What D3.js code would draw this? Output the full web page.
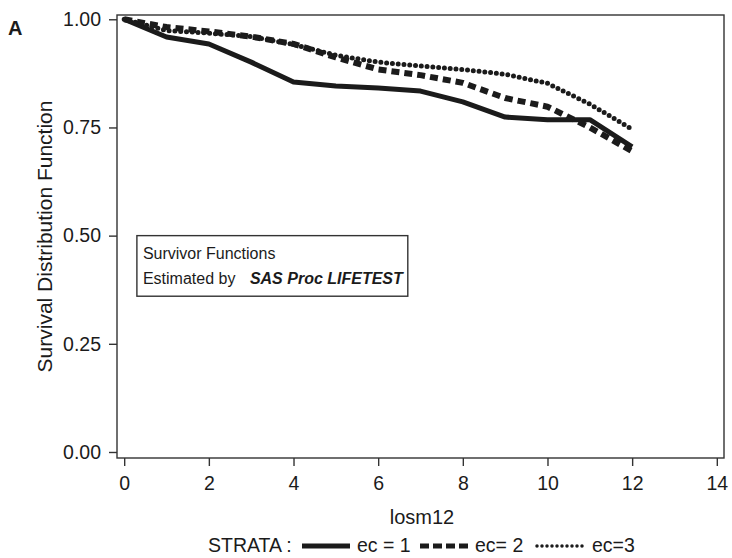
<!DOCTYPE html>
<html>
<head>
<meta charset="utf-8">
<script src="https://cdn.jsdelivr.net/npm/d3@7"></script>
<style>
  body { margin: 0; background: #fff; }
  svg { font-family: "Liberation Sans", Arial, sans-serif; }
</style>
</head>
<body>
<svg width="732" height="558"></svg>
<script>
// time points (losm12)
const times = [0, 1, 2, 3, 4, 5, 6, 7, 8, 9, 10, 11, 12];
// survival estimates per stratum
const ec1 = [1.00, 0.959, 0.943, 0.901, 0.855, 0.846, 0.841, 0.834, 0.809, 0.774, 0.768, 0.768, 0.705];
const ec2 = [1.00, 0.982, 0.972, 0.960, 0.943, 0.912, 0.884, 0.871, 0.853, 0.818, 0.798, 0.750, 0.695];
const ec3 = [1.00, 0.974, 0.968, 0.960, 0.942, 0.917, 0.901, 0.892, 0.884, 0.873, 0.852, 0.804, 0.746];
const strata = ["ec = 1", "ec= 2", "ec=3"];
const xTicks = [0, 2, 4, 6, 8, 10, 12, 14];
const yTicks = [0, 0.25, 0.5, 0.75, 1];

const INK = "#1b1b1b";
const svg = d3.select("svg");

const x = d3.scaleLinear().domain([-0.17, 14.17]).range([117, 724]);
const y = d3.scaleLinear().domain([-0.0139, 1.0099]).range([458, 15]);

// frame
svg.append("rect")
  .attr("x", x.range()[0]).attr("y", y.range()[1])
  .attr("width", x.range()[1] - x.range()[0])
  .attr("height", y.range()[0] - y.range()[1])
  .attr("fill", "none").attr("stroke", "#333").attr("stroke-width", 1.4);

// axes
const yAxis = svg.append("g")
  .attr("transform", `translate(${x.range()[0]},0)`)
  .call(d3.axisLeft(y).tickValues(yTicks).tickFormat(d3.format(".2f")).tickSize(8).tickPadding(8));
const xAxis = svg.append("g")
  .attr("transform", `translate(0,${y.range()[0]})`)
  .call(d3.axisBottom(x).tickValues(xTicks).tickSize(8).tickPadding(10));
[yAxis, xAxis].forEach(g => {
  g.select(".domain").remove();
  g.selectAll("line").attr("stroke", "#333").attr("stroke-width", 1.4);
  g.selectAll("text").attr("fill", INK).style("font-size", "19.5px").style("font-family", "Liberation Sans, Arial, sans-serif");
});

// axis titles
svg.append("text")
  .attr("x", 422).attr("y", 524)
  .attr("text-anchor", "middle").attr("fill", INK)
  .style("font-size", "20px").text("losm12");
svg.append("text")
  .attr("transform", `translate(52,${(y.range()[0] + y.range()[1]) / 2}) rotate(-90)`)
  .attr("text-anchor", "middle").attr("fill", INK)
  .style("font-size", "21px").text("Survival Distribution Function");

// panel letter
svg.append("text").attr("x", 8).attr("y", 35)
  .attr("fill", INK).style("font-size", "20px").style("font-weight", "bold").text("A");

// curves
const styles = [
  { width: 5, dash: null, cap: "butt" },
  { width: 6, dash: "8 5", cap: "butt" },
  { width: 5, dash: "0 5.8", cap: "round" }
];
const series = [ec1, ec2, ec3];
const line = d3.line().x((d, i) => x(times[i])).y(d => y(d));
series.forEach((s, k) => {
  svg.append("path")
    .datum(s)
    .attr("d", line)
    .attr("fill", "none")
    .attr("stroke", INK)
    .attr("stroke-width", styles[k].width)
    .attr("stroke-linecap", styles[k].cap)
    .attr("stroke-linejoin", "round")
    .attr("stroke-dasharray", styles[k].dash);
});

// inset note box
const bx0 = x(0.3), bx1 = x(6.7), by0 = y(0.5), by1 = y(0.36);
svg.append("rect")
  .attr("x", bx0).attr("y", by0).attr("width", bx1 - bx0).attr("height", by1 - by0)
  .attr("fill", "#fff").attr("stroke", "#333").attr("stroke-width", 1.4);
svg.append("text").attr("x", bx0 + 6).attr("y", by0 + 23)
  .attr("fill", INK).style("font-size", "16px").text("Survivor Functions");
const est = svg.append("text").attr("x", bx0 + 6).attr("y", by0 + 48)
  .attr("fill", INK).style("font-size", "16px");
est.append("tspan").text("Estimated by");
est.append("tspan").attr("x", bx0 + 113).style("font-weight", "bold").style("font-style", "italic").text("SAS Proc LIFETEST");

// legend
const legY = 552;
const leg = svg.append("g").attr("fill", INK).style("font-size", "19.5px");
leg.append("text").attr("x", 208).attr("y", legY).text("STRATA :");
const sampleX = [302, 420, 537];
const sampleStyles = [
  { width: 5, dash: null, cap: "butt" },
  { width: 5, dash: "9 4", cap: "butt" },
  { width: 3.5, dash: "0 5", cap: "round" }
];
strata.forEach((name, k) => {
  leg.append("line")
    .attr("x1", sampleX[k]).attr("x2", sampleX[k] + 48)
    .attr("y1", legY - 6).attr("y2", legY - 6)
    .attr("stroke", INK)
    .attr("stroke-width", sampleStyles[k].width)
    .attr("stroke-linecap", sampleStyles[k].cap)
    .attr("stroke-dasharray", sampleStyles[k].dash);
  leg.append("text").attr("x", sampleX[k] + 55).attr("y", legY).text(name);
});
</script>
</body>
</html>
